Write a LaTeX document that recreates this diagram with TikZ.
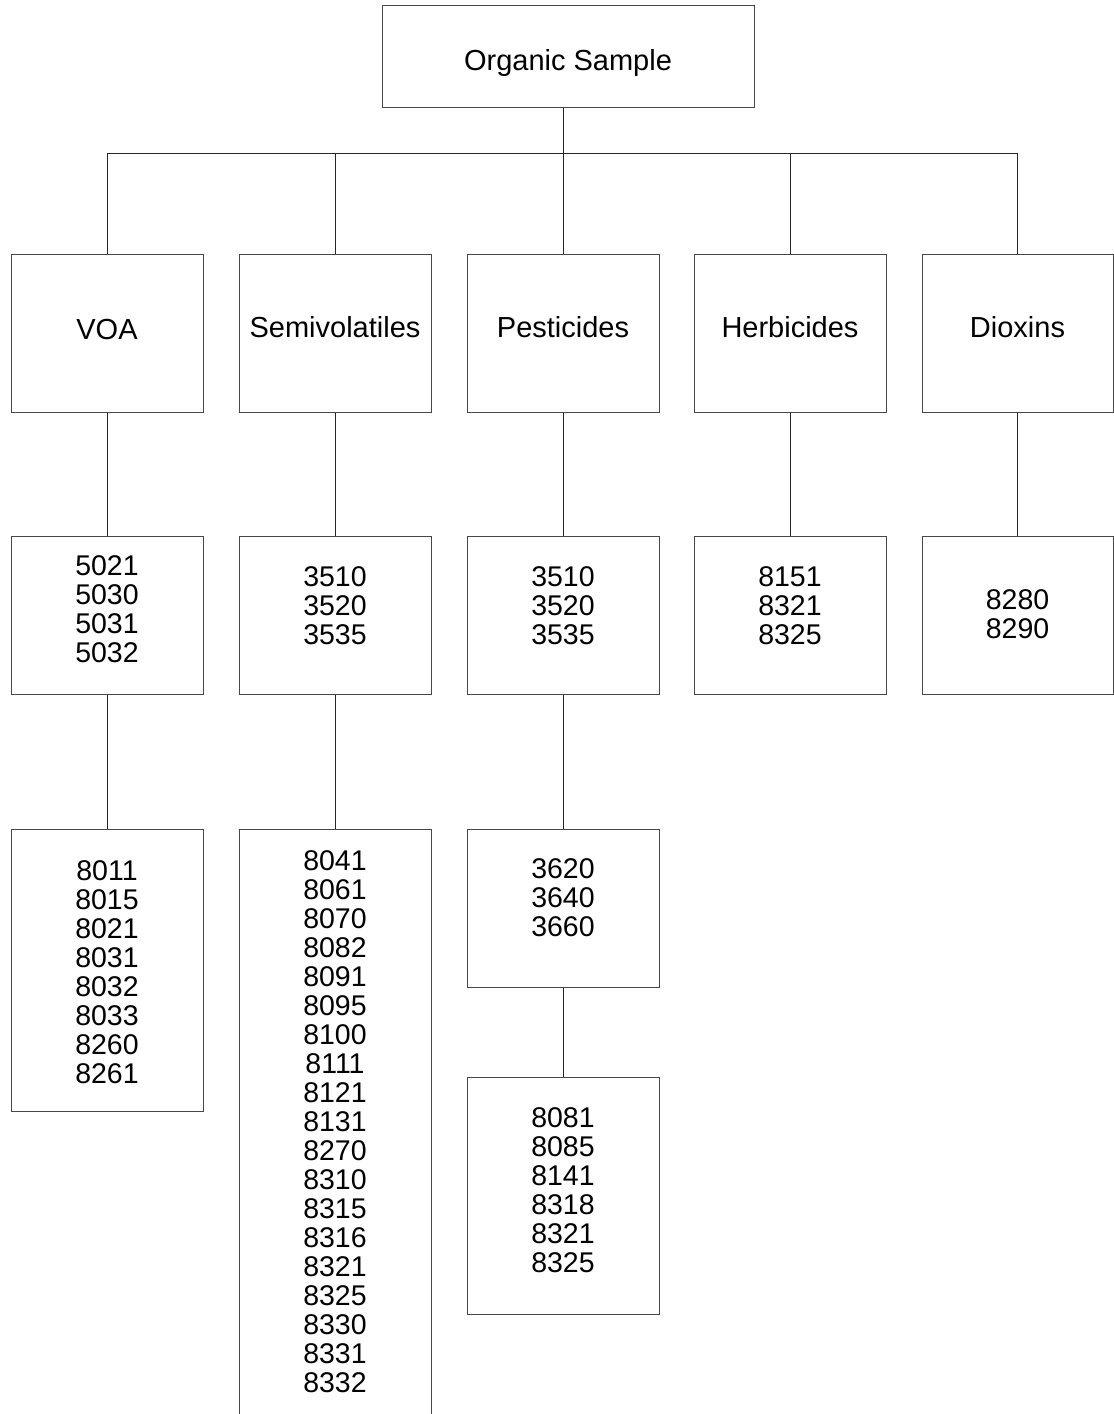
\documentclass[tikz,border=0pt]{standalone}
\usepackage{fontspec}
\setmainfont{Liberation Sans}
\begin{document}
\begin{tikzpicture}[x=1pt,y=-1pt,
  box/.style={draw=black!72, line width=1pt, inner sep=0pt, minimum width=192pt},
  conn/.style={draw=black!85, line width=1pt},
  lab/.style={font=\fontsize{29}{33}\selectfont, anchor=base, inner sep=0pt},
  num/.style={font=\fontsize{28.5}{29}\selectfont, align=center, inner sep=0pt}]
\useasboundingbox (0,0) rectangle (1114,1414);
\clip (0,0) rectangle (1114,1414);
\fill[white] (0,0) rectangle (1114,1414);
% top
\node[box, minimum width=372pt, minimum height=102pt] (top) at (568,56) {};
\node[lab] (toplab) at (568,70) {Organic Sample};
% level 1
\node[box, minimum height=158pt] (voa1) at (107,333) {};
\node[box, minimum height=158pt] (semi1) at (335,333) {};
\node[box, minimum height=158pt] (pest1) at (563,333) {};
\node[box, minimum height=158pt] (herb1) at (790,333) {};
\node[box, minimum height=158pt, minimum width=191pt] (diox1) at (1017.5,333) {};
\node[lab] (voalab) at (107,339) {VOA};
\node[lab] (semilab) at (335,337) {Semivolatiles};
\node[lab] (pestlab) at (563,337) {Pesticides};
\node[lab] (herblab) at (790,337) {Herbicides};
\node[lab] (dioxlab) at (1017.5,337) {Dioxins};
% level 2
\node[box, minimum height=158pt] (voa2) at (107,615) {};
\node[box, minimum height=158pt] (semi2) at (335,615) {};
\node[box, minimum height=158pt] (pest2) at (563,615) {};
\node[box, minimum height=158pt] (herb2) at (790,615) {};
\node[box, minimum height=158pt, minimum width=191pt] (diox2) at (1017.5,615) {};
\node[num] (voa2t) at (107,609) {5021\\5030\\5031\\5032};
\node[num] (semi2t) at (335,606) {3510\\3520\\3535};
\node[num] (pest2t) at (563,606) {3510\\3520\\3535};
\node[num] (herb2t) at (790,605.5) {8151\\8321\\8325};
\node[num] (diox2t) at (1017.5,614) {8280\\8290};
% level 3
\node[box, minimum height=282pt] (voa3) at (107,970) {};
\node[box, minimum height=601pt] (semi3) at (335,1129.5) {};
\node[box, minimum height=158pt] (pest3) at (563,908.5) {};
\node[num] (voa3t) at (107,972.5) {8011\\8015\\8021\\8031\\8032\\8033\\8260\\8261};
\node[num] (semi3t) at (335,1121.5) {8041\\8061\\8070\\8082\\8091\\8095\\8100\\8111\\8121\\8131\\8270\\8310\\8315\\8316\\8321\\8325\\8330\\8331\\8332};
\node[num] (pest3t) at (563,898) {3620\\3640\\3660};
% level 4
\node[box, minimum height=237pt] (pest4) at (563,1196) {};
\node[num] (pest4t) at (563,1190.5) {8081\\8085\\8141\\8318\\8321\\8325};
% connectors
\coordinate (bus) at (0,153);
\draw[conn] (top.south -| pest1.north) -- (pest1.north);
\draw[conn] (voa1.north) -- (voa1.north |- bus) -- (diox1.north |- bus) -- (diox1.north);
\draw[conn] (semi1.north |- bus) -- (semi1.north);
\draw[conn] (herb1.north |- bus) -- (herb1.north);
\draw[conn] (voa1.south) -- (voa2.north);
\draw[conn] (semi1.south) -- (semi2.north);
\draw[conn] (pest1.south) -- (pest2.north);
\draw[conn] (herb1.south) -- (herb2.north);
\draw[conn] (diox1.south) -- (diox2.north);
\draw[conn] (voa2.south) -- (voa3.north);
\draw[conn] (semi2.south) -- (semi3.north);
\draw[conn] (pest2.south) -- (pest3.north);
\draw[conn] (pest3.south) -- (pest4.north);
\end{tikzpicture}
\end{document}
